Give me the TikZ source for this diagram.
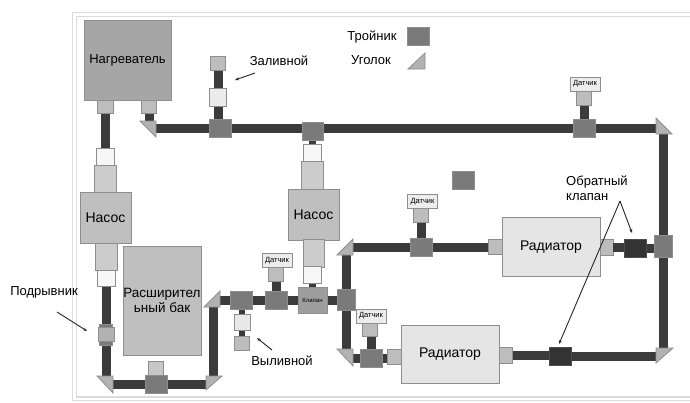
\documentclass[tikz,border=0pt]{standalone}
\usepackage{fontspec}
\setmainfont{Liberation Sans}
\usepackage{tikz}
\usetikzlibrary{arrows.meta,backgrounds}
\definecolor{rimgray}{HTML}{8E8E8E}
\tikzset{
  part/.style={draw=rimgray,line width=0.8pt,inner sep=0pt,minimum width=#1},
  tee/.style={part=22pt,fill=black!52,minimum height=18pt},
  fitting/.style={part=15.5pt,fill=black!26,minimum height=14pt},
  collar/.style={part=17pt,fill=black!3,minimum height=16.5pt},
  sleeve/.style={part=22pt,fill=black!20,minimum height=27pt},
  sensor/.style={part=30pt,fill=black!7,minimum height=14pt,font=\fontsize{7.5}{8}\selectfont},
  pump/.style={part=51pt,fill=black!25,minimum height=51pt,font=\fontsize{14}{16}\selectfont},
  radiator/.style={part=98pt,fill=black!10,minimum height=58.5pt,font=\fontsize{14}{16}\selectfont},
  valve/.style={part=22pt,draw=black!70,fill=black!80,minimum height=18pt},
  pipe/.style={draw=black!77,line width=9pt},
  ugolok/.style={draw=rimgray,line width=0.8pt,fill=black!30},
  rim/.style={draw=black!14,line width=1.4pt},
  caption/.style={inner sep=0pt,font=\fontsize{13}{15}\selectfont},
  pointer/.style={draw=black!85,line width=0.9pt,-{Stealth[length=4pt,width=3pt]}}
}
\begin{document}
\begin{tikzpicture}[x=1pt,y=-1pt]
\useasboundingbox (0,0) rectangle (690,402);
% frame
\draw[rim] (691,12.5) -- (72.5,12.5) -- (72.5,400.5) -- (691,400.5);
\draw[rim] (691,16.5) -- (76.5,16.5) -- (76.5,397) -- (691,397);

% heater and left pump
\node[part=87pt,fill=black!35,minimum height=80pt,font=\fontsize{13}{15}\selectfont] (heater) at (127.5,60) {Нагреватель};
\node[fitting,minimum height=13pt] (fitH1) at (105.5,106.5) {};
\node[fitting,minimum height=13pt] (fitH2) at (149,106.5) {};
\node[collar,minimum width=18pt] (capA) at (105.5,157) {};
\node[sleeve] (slvA) at (105.5,178.5) {};
\node[pump] (pumpA) at (105.5,217.5) {Насос};
\node[sleeve] (slvB) at (106,256.5) {};
\node[collar,minimum width=18pt] (capB) at (106,278.5) {};
\node[part=13pt,fill=black!52,minimum height=21pt] (podrA) at (106,334.5) {};
\node[part=16pt,fill=black!30,minimum height=14pt] (podrB) at (106,334) {};

% tank
\node[part=78pt,fill=black!25,minimum height=109pt,align=center,font=\fontsize{13.5}{15.5}\selectfont] (tank) at (162,300.5) {Расширител\\ьный бак};
\node[fitting,fill=black!22] (fitTank) at (156,368) {};
\node[tee] (teeTank) at (156,384) {};

% centre row
\node[tee] (teeDrain) at (241.5,300) {};
\node[collar,fill=black!9,minimum width=16pt] (capDrain) at (242,322.5) {};
\node[fitting,minimum height=14pt] (fitDrain) at (242,343) {};
\node[tee] (teeSensA) at (276,300) {};
\node[fitting] (fitSensA) at (276,274) {};
\node[sensor] (sensA) at (277,260.5) {Датчик};
\node[part=29pt,fill=black!38,minimum height=26pt,font=\fontsize{6}{7}\selectfont] (klapan) at (312.5,300) {Клапан};
\node[tee,minimum width=18pt,minimum height=21pt] (teeC) at (346,300) {};

% centre pump
\node[tee,minimum width=21pt] (teeTop) at (312.5,131) {};
\node[collar,minimum width=18pt] (capC) at (312.5,153) {};
\node[sleeve,minimum height=28pt] (slvC) at (312.5,175) {};
\node[pump] (pumpB) at (313.5,214.5) {Насос};
\node[sleeve,minimum width=21pt,minimum height=28pt] (slvD) at (313.5,253) {};
\node[collar,minimum width=18pt] (capD) at (312.5,275) {};

% top row
\node[tee] (teeFill) at (220,128) {};
\node[fitting] (fitFill) at (218,63) {};
\node[collar,fill=black!8,minimum height=18pt] (capFill) at (218,97) {};
\node[tee] (teeSensB) at (584,128) {};
\node[fitting] (fitSensB) at (584,98) {};
\node[sensor] (sensB) at (585,84) {Датчик};
\node[tee,minimum width=18pt,minimum height=22pt] (teeRight) at (663,246) {};

% upper radiator
\node[tee] (teeSensC) at (421,247) {};
\node[fitting] (fitSensC) at (421,215) {};
\node[sensor] (sensC) at (422.5,201.5) {Датчик};
\node[fitting,minimum width=14pt,minimum height=15pt] (fitRadA) at (495,247) {};
\node[radiator] (radA) at (551,247) {Радиатор};
\node[fitting,minimum width=13pt,minimum height=16pt] (fitRadB) at (606.5,247) {};
\node[valve] (valveA) at (635,248) {};

% lower radiator
\node[tee] (teeSensD) at (371,358) {};
\node[fitting,minimum height=13pt] (fitSensD) at (370,329.5) {};
\node[sensor] (sensD) at (371,316) {Датчик};
\node[fitting,minimum width=14pt,minimum height=15pt] (fitRadC) at (394,356.5) {};
\node[radiator] (radB) at (450,354.5) {Радиатор};
\node[fitting,minimum width=13pt,minimum height=16pt] (fitRadD) at (505.5,355) {};
\node[valve] (valveB) at (560,356) {};

% corners, named by the right angle
\coordinate (ugHeat) at (156,121);
\coordinate (ugTop) at (656,134);
\coordinate (ugLow) at (113,376);
\coordinate (ugTank) at (206,376);
\coordinate (ugRow) at (220,307);
\coordinate (ugCtrA) at (353,255);
\coordinate (ugCtrB) at (353,349);
\coordinate (ugBot) at (656,348);
\coordinate (ugLeg) at (425,69);
\coordinate (riseTank) at (213,340);

\begin{pgfonlayer}{background}
\path[pipe] (fitH1) -- (capA);
\path[pipe] (capB) -- (podrA);
\path[pipe] (podrA) -- (podrA |- ugLow);
\path[pipe] (ugLow |- teeTank) -- (teeTank);
\path[pipe] (teeTank) -- (ugTank |- teeTank);
\path[pipe] (riseTank |- ugTank) -- (riseTank |- ugRow);
\path[pipe] (ugRow |- teeDrain) -- (teeDrain);
\path[pipe,line width=6pt] (teeDrain) -- (teeDrain |- capDrain);
\path[pipe,line width=6pt] (capDrain) -- (fitDrain);
\path[pipe] (teeDrain) -- (teeSensA);
\path[pipe] (teeSensA) -- (fitSensA);
\path[pipe] (teeSensA) -- (klapan);
\path[pipe] (klapan) -- (teeC);
\path[pipe,line width=7pt] (klapan) -- (capD);
\path[pipe] (fitH2) -- (fitH2 |- ugHeat);
\path[pipe] (ugHeat |- teeFill) -- (teeFill);
\path[pipe] (teeFill) -- (teeSensB);
\path[pipe] (teeSensB) -- (ugTop |- teeSensB);
\path[pipe] (fitFill) -- (capFill);
\path[pipe] (capFill) -- (teeFill -| capFill);
\path[pipe,line width=7pt] (teeTop) -- (capC);
\path[pipe] (teeSensB) -- (fitSensB);
\path[pipe] (teeRight) -- (teeRight |- ugTop);
\path[pipe] (teeRight) -- (teeRight |- ugBot);
\path[pipe] (teeC) -- (teeC |- ugCtrA);
\path[pipe] (teeC) -- (teeC |- ugCtrB);
\path[pipe] (ugCtrA |- teeSensC) -- (teeSensC);
\path[pipe] (teeSensC) -- (fitRadA);
\path[pipe] (teeSensC) -- (fitSensC);
\path[pipe] (valveA) -- (teeRight |- valveA);
\path[pipe] (ugCtrB |- teeSensD) -- (teeSensD);
\path[pipe] (teeSensD) -- (fitRadC |- teeSensD);
\path[pipe] (teeSensD) -- (teeSensD |- fitSensD);
\path[pipe] (fitRadD) -- (valveB |- fitRadD);
\path[pipe] (valveB) -- (ugBot |- valveB);
\end{pgfonlayer}
\path[pipe] (fitRadB) -- (fitRadB -| valveA.west);

% corners
\draw[ugolok] (ugHeat) -- ++(-16,0) -- ++(16,16) -- cycle;
\draw[ugolok] (ugTop) -- ++(0,-16) -- ++(16,16) -- cycle;
\draw[ugolok] (ugLow) -- ++(-16,0) -- ++(16,17) -- cycle;
\draw[ugolok] (ugTank) -- ++(16,0) -- ++(-16,14) -- cycle;
\draw[ugolok] (ugRow) -- ++(-16,0) -- ++(16,-16) -- cycle;
\draw[ugolok] (ugCtrA) -- ++(-16,0) -- ++(16,-16) -- cycle;
\draw[ugolok] (ugCtrB) -- ++(-16,0) -- ++(16,17) -- cycle;
\draw[ugolok] (ugBot) -- ++(17,0) -- ++(-17,15) -- cycle;

% legend
\node[caption] (lblTee) at (372,37) {Тройник};
\node[tee] (legTee) at (418,36) {};
\node[caption] (lblCorner) at (371,60) {Уголок};
\draw[ugolok] (ugLeg) -- ++(-17,0) -- ++(17,-16) -- cycle;
\node[tee] (teeSpare) at (463,180) {};

% captions and pointers
\node[caption] (lblFill) at (279,61) {Заливной};
\node[caption] (lblPodr) at (44,292) {Подрывник};
\node[caption] (lblDrain) at (282,361) {Выливной};
\node[caption,align=left,anchor=north west] (lblValve) at (566,176) {Обратный\\клапан};
\coordinate (ptFillA) at (255,73);
\coordinate (ptFillB) at (235,80);
\coordinate (ptPodrA) at (57,312);
\coordinate (ptPodrB) at (87,331);
\coordinate (ptDrainA) at (272,350);
\coordinate (ptDrainB) at (257,338);
\coordinate (ptValve) at (620,201);
\coordinate (ptValveA) at (632,233);
\coordinate (ptValveB) at (559,344);
\draw[pointer] (ptFillA) -- (ptFillB);
\draw[pointer] (ptPodrA) -- (ptPodrB);
\draw[pointer] (ptDrainA) -- (ptDrainB);
\draw[pointer] (ptValve) -- (ptValveA);
\draw[pointer] (ptValve) -- (ptValveB);
\end{tikzpicture}
\end{document}
